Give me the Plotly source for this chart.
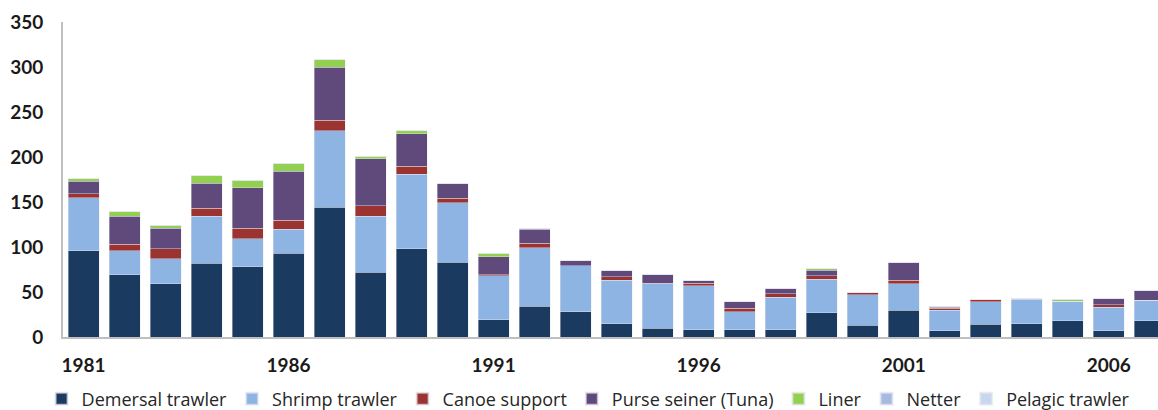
import plotly.graph_objects as go

years = list(range(1981, 2008))
demersal = [96, 69, 59, 82, 78, 93, 144, 72, 98, 83, 19, 34, 28, 15, 10, 8, 8, 8, 27, 13, 30, 7, 14, 15, 18, 7, 18]
shrimp   = [59, 27, 28, 52, 31, 27, 85, 62, 83, 66, 49, 65, 51, 48, 49, 49, 20, 36, 37, 34, 29, 23, 25, 27, 22, 26, 23]
canoe    = [4, 7, 11, 9, 12, 10, 12, 12, 9, 5, 1, 5, 0, 4, 1, 3, 4, 4, 4, 3, 4, 2, 3, 1, 0, 3, 0]
purse    = [14, 31, 23, 28, 45, 54, 59, 52, 36, 17, 20, 16, 6, 7, 10, 3, 7, 6, 6, 0, 20, 1, 0, 0, 0, 7, 11]
liner    = [3, 5, 3, 8, 8, 9, 8, 3, 3, 0, 4, 1, 0, 0, 0, 0, 0, 0, 2, 0, 0, 1, 0, 0, 2, 0, 0]
netter   = [0] * 27
pelagic  = [0] * 27

series = [
    ("Demersal trawler", demersal, "#1B3A5F"),
    ("Shrimp trawler", shrimp, "#8DB4E2"),
    ("Canoe support", canoe, "#9B3430"),
    ("Purse seiner (Tuna)", purse, "#604A7B"),
    ("Liner", liner, "#92D050"),
    ("Netter", netter, "#A6B9DE"),
    ("Pelagic trawler", pelagic, "#C9D7EE"),
]
tick_years = [1981, 1986, 1991, 1996, 2001, 2006]

fig = go.Figure()
for name, vals, col in series:
    fig.add_trace(go.Bar(
        x=years, y=vals, name=name,
        marker=dict(color=col, line=dict(color="rgba(230,230,240,0.7)", width=0.6)),
    ))

tick_fam = "Lato, 'Open Sans', sans-serif"
leg_fam = "'Open Sans', Lato, sans-serif"
fig.update_layout(
    barmode="stack",
    bargap=0.244,
    width=1158, height=410,
    margin=dict(l=63, r=0, t=22, b=73, autoexpand=False),
    plot_bgcolor="white", paper_bgcolor="white",
    font=dict(family=tick_fam, color="#262626"),
    showlegend=True,
    legend=dict(
        orientation="h", x=0.48, xanchor="center",
        yref="container", y=1 - 399 / 410, yanchor="middle",
        font=dict(size=18, family=leg_fam, color="#262626"),
        traceorder="normal", itemsizing="constant",
    ),
    xaxis=dict(
        range=[1980.5, 2007.2],
        tickmode="array", tickvals=tick_years, ticktext=[str(y) for y in tick_years],
        tickfont=dict(size=19, family=tick_fam, weight="bold", color="#1a1a1a"),
        showline=True, linecolor="#BFBFBF", linewidth=2,
        showgrid=False, ticks="", zeroline=False,
        ticklabelstandoff=10,
    ),
    yaxis=dict(
        range=[0, 350], tickmode="array", tickvals=list(range(0, 351, 50)),
        tickfont=dict(size=19, family=tick_fam, weight="bold", color="#1a1a1a"),
        showline=True, linecolor="#BFBFBF", linewidth=2,
        showgrid=False, ticks="", zeroline=False,
        ticklabelstandoff=14,
    ),
)
fig.write_html("out.html")
